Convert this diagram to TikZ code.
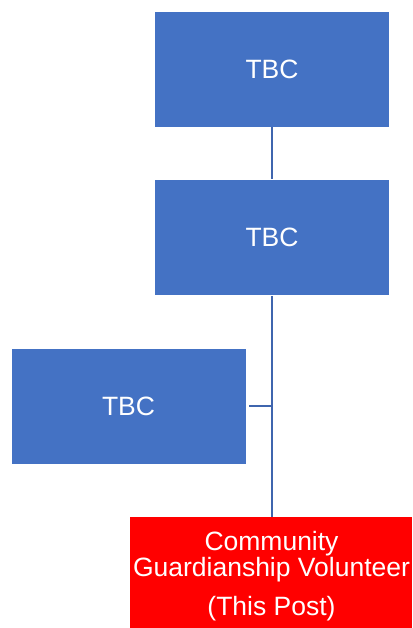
\documentclass[tikz,border=0pt]{standalone}
\usepackage{fontspec}
\setmainfont{Liberation Sans}
\definecolor{boxblue}{HTML}{4472C4}
\definecolor{linkblue}{HTML}{3F65AE}
\definecolor{postred}{HTML}{FF0000}
\begin{document}
\begin{tikzpicture}[x=1pt,y=-1pt,
  rolebox/.style={rectangle, fill=boxblue, draw=white, line width=0.8pt,
    minimum width=235pt, minimum height=116pt, inner sep=0pt,
    text=white, font=\fontsize{26.5}{26}\selectfont},
  postbox/.style={rectangle, fill=postred, draw=none,
    minimum width=282pt, minimum height=111pt, inner sep=0pt},
  posttext/.style={text=white, align=center, inner sep=0pt,
    font=\fontsize{26.5}{26}\selectfont},
  link/.style={draw=linkblue, line width=2pt}]
  \useasboundingbox (0,0) rectangle (412,628);
  \node[rolebox] (top) at (272,69) {TBC};
  \node[rolebox] (mid) at (272,237.5) {TBC};
  \node[rolebox] (side) at (128.5,406) {TBC};
  \node[postbox] (post) at (271,572.5) {};
  % the base anchor of a multi-line node sits on its last line
  \node[posttext, anchor=base] (postlabel) at (271.5,615)
    {Community\\Guardianship Volunteer\\[12.3pt](This Post)};
  \draw[link] (top.south) -- (mid.north);
  \draw[link] (mid.south) -- (mid.south |- post.north);
  \draw[link, shorten <=3pt] (side.east) -- (mid.south |- side.east);
\end{tikzpicture}
\end{document}
